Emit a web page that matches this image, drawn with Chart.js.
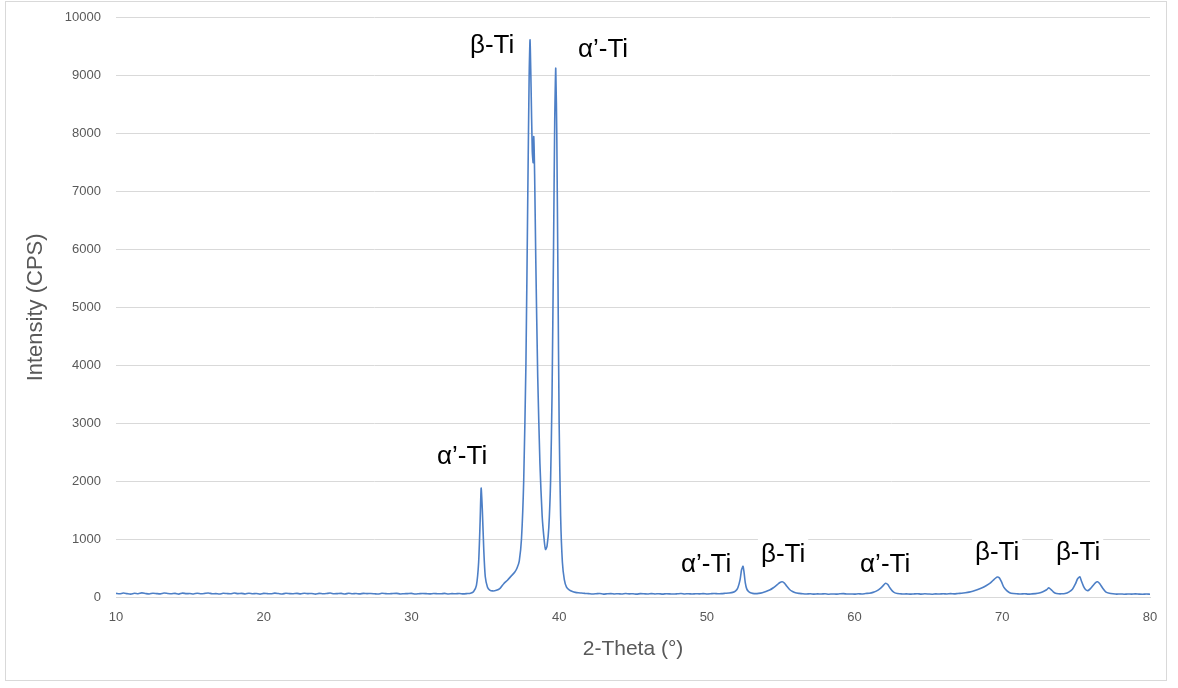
<!DOCTYPE html>
<html lang="en">
<head>
    <meta charset="UTF-8">
    <title>XRD Pattern</title>
    <script src="https://cdn.jsdelivr.net/npm/chart.js"></script>
    <style>
        html, body { margin: 0; padding: 0; background: #ffffff; }
        .chart-wrap { position: relative; width: 1178px; height: 688px; }
        .chart-frame {
            position: absolute; left: 5px; top: 1px; width: 1162px; height: 680px;
            border: 1px solid #d9d9d9; box-sizing: border-box; pointer-events: none;
        }
        canvas { position: absolute; left: 0; top: 0; }
    </style>
</head>
<body>
    <div class="chart-wrap">
        <canvas id="xrdChart" width="1178" height="688"></canvas>
        <div class="chart-frame"></div>
    </div>

    <script>
        // 2-Theta (deg) and intensity (CPS)
        const twoTheta = [
            10, 10.25, 10.5, 10.75, 11, 11.25, 11.5, 11.75,
            12, 12.25, 12.5, 12.75, 13, 13.25, 13.5, 13.75,
            14, 14.25, 14.5, 14.75, 15, 15.25, 15.5, 15.75,
            16, 16.25, 16.5, 16.75, 17, 17.25, 17.5, 17.75,
            18, 18.25, 18.5, 18.75, 19, 19.25, 19.5, 19.75,
            20, 20.25, 20.5, 20.75, 21, 21.25, 21.5, 21.75,
            22, 22.25, 22.5, 22.75, 23, 23.25, 23.5, 23.75,
            24, 24.25, 24.5, 24.75, 25, 25.25, 25.5, 25.75,
            26, 26.25, 26.5, 26.75, 27, 27.25, 27.5, 27.75,
            28, 28.25, 28.5, 28.75, 29, 29.25, 29.5, 29.75,
            30, 30.25, 30.5, 30.75, 31, 31.25, 31.5, 31.75,
            32, 32.25, 32.5, 32.75, 33, 33.25, 33.5, 33.75,
            34, 34.2, 34.4, 34.55, 34.65, 34.72, 34.8, 34.9,
            35.0, 35.15, 35.3, 35.5, 35.75, 36.0, 36.25, 36.5,
            36.75, 37.0, 37.15, 37.3, 37.45, 37.6, 37.75, 37.88,
            37.97, 38.03, 38.1, 38.18, 38.24, 38.28, 38.34, 38.42,
            38.55, 38.7, 38.85, 39.0, 39.08, 39.18, 39.3, 39.42,
            39.52, 39.62, 39.7, 39.77, 39.84, 39.92, 40.0, 40.1,
            40.22, 40.35, 40.5, 40.7, 40.9, 41.1, 41.3, 41.5,
            41.75, 42, 42.25, 42.5, 42.75, 43, 43.25, 43.5,
            43.75, 44, 44.25, 44.5, 44.75, 45, 45.25, 45.5,
            45.75, 46, 46.25, 46.5, 46.75, 47, 47.25, 47.5,
            47.75, 48, 48.25, 48.5, 48.75, 49, 49.25, 49.5,
            49.75, 50, 50.25, 50.5, 50.75, 51, 51.25, 51.5,
            51.75, 51.95, 52.1, 52.25, 52.35, 52.45, 52.52, 52.6,
            52.7, 52.82, 52.95, 53.1, 53.3, 53.5, 53.75, 54.0,
            54.25, 54.5, 54.75, 54.95, 55.1, 55.25, 55.4, 55.6,
            55.8, 56.0, 56.25, 56.5, 56.75, 57, 57.25, 57.5,
            57.75, 58, 58.25, 58.5, 58.75, 59, 59.25, 59.5,
            59.75, 60, 60.25, 60.5, 60.75, 61, 61.25, 61.5,
            61.75, 61.95, 62.1, 62.25, 62.4, 62.55, 62.7, 62.9,
            63.1, 63.25, 63.5, 63.75, 64, 64.25, 64.5, 64.75,
            65, 65.25, 65.5, 65.75, 66, 66.25, 66.5, 66.75,
            67, 67.25, 67.5, 67.75, 68.0, 68.3, 68.6, 68.9,
            69.2, 69.45, 69.65, 69.8, 69.95, 70.1, 70.3, 70.5,
            70.75, 71.0, 71.25, 71.5, 71.75, 72, 72.25, 72.5,
            72.75, 73.0, 73.15, 73.3, 73.45, 73.6, 73.8, 74.0,
            74.25, 74.5, 74.75, 74.95, 75.1, 75.25, 75.35, 75.5,
            75.65, 75.8, 75.95, 76.1, 76.3, 76.45, 76.6, 76.8,
            77.0, 77.25, 77.5, 77.75, 78, 78.25, 78.5, 78.75,
            79, 79.25, 79.5, 79.75, 80
        ];
        const intensity = [
            62, 55, 68, 58, 50, 64, 57, 71,
            60, 52, 66, 59, 54, 69, 61, 56,
            63, 50, 67, 58, 60, 53, 65, 57,
            62, 70, 55, 59, 51, 64, 60, 56,
            68, 58, 62, 53, 66, 57, 61, 49,
            63, 58, 55, 67, 60, 52, 64, 59,
            57, 62, 54, 66, 58, 61, 50, 63,
            56, 60, 68, 55, 59, 62, 52, 65,
            57, 60, 54, 63, 58, 61, 56, 51,
            64, 58, 55, 60, 62, 53, 57, 59,
            63, 52, 56, 61, 58, 54, 60, 57,
            55, 62, 53, 58, 56, 60, 54, 59,
            66, 90, 200, 600, 1300, 1880, 1500, 800,
            350, 170, 120, 105, 115, 150, 230, 290,
            360, 430, 500, 620, 1000, 2000, 4000, 7000,
            9000, 9620, 8800, 7700, 7500, 7950, 7300, 5800,
            3800, 2300, 1400, 950, 820, 880, 1200, 2000,
            3500, 6000, 8200, 9130, 8000, 5500, 3000, 1400,
            600, 300, 170, 120, 95, 80, 72, 68,
            62, 58, 52, 56, 61, 50, 55, 59,
            53, 57, 51, 60, 54, 56, 49, 58,
            55, 52, 59, 53, 57, 50, 56, 54,
            51, 55, 60, 53, 57, 52, 56, 54,
            59, 53, 56, 61, 55, 58, 64, 70,
            80, 105, 160, 300, 470, 530, 420, 250,
            140, 95, 72, 62, 58, 62, 74, 95,
            120, 160, 210, 250, 262, 240, 190, 130,
            95, 72, 62, 55, 52, 57, 49, 54,
            51, 56, 48, 53, 50, 55, 58, 51,
            53, 49, 56, 52, 60, 66, 80, 105,
            150, 200, 238, 215, 155, 105, 75, 60,
            55, 51, 54, 49, 53, 57, 50, 55,
            52, 48, 54, 51, 56, 53, 58, 54,
            61, 66, 74, 84, 100, 125, 155, 195,
            245, 305, 345, 330, 260, 170, 110, 75,
            60, 55, 51, 57, 50, 54, 59, 68,
            90, 125, 158, 128, 90, 65, 56, 55,
            60, 85, 135, 225, 315, 350, 280, 185,
            125, 110, 140, 185, 245, 262, 230, 150,
            90, 65, 55, 50, 53, 48, 52, 49,
            54, 50, 47, 51, 48
        ];

        // phase labels: text, 2-Theta and intensity of the label centre
        const phaseText = ['β-Ti', 'α’-Ti', 'α’-Ti', 'α’-Ti', 'β-Ti', 'α’-Ti', 'β-Ti', 'β-Ti'];
        const phaseTheta = [35.46, 42.97, 33.43, 49.95, 55.16, 62.07, 69.65, 75.13];
        const phaseCps = [9520, 9450, 2420, 555, 725, 555, 760, 760];

        const xTicks = [10, 20, 30, 40, 50, 60, 70, 80];

        const FONT = '"Liberation Sans", Arial, sans-serif';

        const phaseLabels = {
            id: 'phaseLabels',
            afterDatasetsDraw(chart) {
                const { ctx, scales } = chart;
                ctx.save();
                ctx.font = '26px ' + FONT;
                ctx.textAlign = 'center';
                ctx.textBaseline = 'middle';
                phaseText.forEach((txt, i) => {
                    const px = scales.x.getPixelForValue(phaseTheta[i]);
                    const py = scales.y.getPixelForValue(phaseCps[i]);
                    const w = ctx.measureText(txt).width;
                    ctx.fillStyle = '#ffffff';
                    ctx.fillRect(px - w / 2 - 3, py - 16, w + 6, 32);
                    ctx.fillStyle = '#000000';
                    ctx.fillText(txt, px, py);
                });
                ctx.restore();
            }
        };

        new Chart(document.getElementById('xrdChart'), {
            type: 'line',
            data: {
                datasets: [{
                    data: twoTheta.map((t, i) => ({ x: t, y: intensity[i] })),
                    borderColor: '#4d7fc6',
                    borderWidth: 1.6,
                    pointRadius: 0,
                    tension: 0.2,
                    fill: false
                }]
            },
            options: {
                responsive: false,
                animation: false,
                layout: { padding: { left: 19, right: 28, top: 10, bottom: 22 } },
                plugins: { legend: { display: false }, tooltip: { enabled: false } },
                scales: {
                    x: {
                        type: 'linear', min: 10, max: 80,
                        afterBuildTicks: (s) => { s.ticks = xTicks.map(v => ({ value: v })); },
                        afterFit: (s) => { s.height = 69; },
                        grid: { display: false, drawTicks: false },
                        border: { display: true, color: '#d9d9d9' },
                        ticks: { color: '#595959', padding: 13, font: { family: FONT, size: 13 } },
                        title: { display: true, text: '2-Theta (°)', color: '#595959', font: { family: FONT, size: 21 } }
                    },
                    y: {
                        min: 0, max: 10000,
                        afterFit: (s) => { s.width = 97; },
                        grid: { color: '#d9d9d9', drawTicks: true, tickLength: 5, tickColor: 'rgba(0,0,0,0)' },
                        border: { display: false },
                        ticks: { stepSize: 1000, color: '#595959', padding: 10, font: { family: FONT, size: 13 },
                                 callback: (v) => String(v) },
                        title: { display: true, text: 'Intensity (CPS)', color: '#595959', font: { family: FONT, size: 22 } }
                    }
                }
            },
            plugins: [phaseLabels]
        });
    </script>
</body>
</html>
